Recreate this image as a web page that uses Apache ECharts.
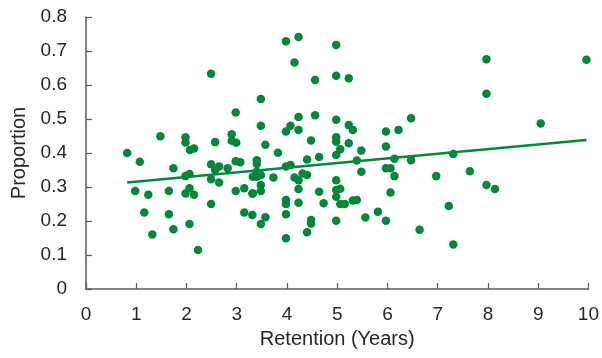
<!DOCTYPE html>
<html>
<head>
<meta charset="utf-8">
<script src="https://cdn.jsdelivr.net/npm/echarts@6/dist/echarts.min.js"></script>
<style>
  html, body { margin: 0; padding: 0; background: #fff; }
</style>
</head>
<body>
<div id="main" style="width: 602px; height: 358px;"></div>
<script>
// retention in years / proportion
var retention = [
  0.82, 1.07, 0.98, 1.24, 1.16, 1.32, 1.48, 1.74, 1.65, 1.65, 1.74,
  1.98, 1.98, 2.07, 2.15, 1.98, 2.06, 2.06, 1.98, 2.15, 2.06, 2.23,
  2.49, 2.49, 2.49, 2.57, 2.57, 2.65, 2.65, 2.49, 2.82, 2.9, 2.9, 2.99,
  2.98, 2.98, 3.07, 2.98, 3.15, 3.15, 3.31, 3.31,
  3.48, 3.48, 3.57, 3.40, 3.40, 3.40, 3.32, 3.40, 3.48, 3.48, 3.48, 3.32,
  3.73, 3.82, 3.57, 3.48,
  3.98, 4.23, 4.15, 4.07, 3.98, 4.23, 4.23, 4.48, 4.56, 4.56, 3.98, 4.07,
  4.15, 4.23, 4.31, 4.40, 4.40, 4.64, 4.23, 3.98, 3.98, 4.23, 3.98, 3.98,
  4.48, 4.48, 4.40, 4.64, 4.73,
  4.98, 4.98, 5.23, 4.98, 5.23, 5.31, 4.98, 4.98, 5.23, 5.06, 4.98, 5.48,
  5.39, 5.48, 4.98, 4.98, 5.06, 4.98, 5.06, 5.15, 5.31, 5.39, 4.98, 5.56,
  5.81, 5.97, 5.97, 6.22, 6.47, 5.97, 6.14, 6.47, 5.97, 6.06, 6.14, 6.06,
  6.64,
  7.97, 9.96, 7.97, 9.05, 7.31, 6.97, 7.64, 7.97, 8.14, 7.22, 7.31
];
var proportion = [
  0.40, 0.374, 0.288, 0.277, 0.225, 0.16, 0.449, 0.355, 0.288, 0.22, 0.176,
  0.446, 0.431, 0.409, 0.413, 0.332, 0.338, 0.296, 0.281, 0.277, 0.191, 0.115,
  0.633, 0.367, 0.323, 0.432, 0.35, 0.36, 0.313, 0.25, 0.355, 0.455, 0.436, 0.43,
  0.519, 0.376, 0.373, 0.288, 0.296, 0.225, 0.281, 0.218,
  0.559, 0.48, 0.424, 0.379, 0.368, 0.345, 0.33, 0.33, 0.335, 0.306, 0.288, 0.281,
  0.328, 0.401, 0.211, 0.191,
  0.729, 0.741, 0.666, 0.48, 0.463, 0.506, 0.468, 0.437, 0.511, 0.615, 0.36, 0.365,
  0.328, 0.32, 0.34, 0.335, 0.381, 0.388, 0.294, 0.262, 0.25, 0.254, 0.22, 0.149,
  0.203, 0.193, 0.167, 0.286, 0.252,
  0.718, 0.627, 0.62, 0.498, 0.482, 0.468, 0.446, 0.433, 0.429, 0.411, 0.394, 0.407,
  0.378, 0.345, 0.32, 0.291, 0.295, 0.271, 0.25, 0.25, 0.26, 0.262, 0.201, 0.21,
  0.227, 0.201, 0.463, 0.468, 0.502, 0.419, 0.383, 0.379, 0.355, 0.355, 0.332, 0.284,
  0.174,
  0.676, 0.674, 0.574, 0.487, 0.397, 0.332, 0.346, 0.306, 0.294, 0.244, 0.131
];
// trend line end points
var trendX = [0.82, 9.96];
var trendY = [0.313, 0.438];
var xTicks = [0, 1, 2, 3, 4, 5, 6, 7, 8, 9, 10];

var green = '#00873c';
var axisColor = '#595959';
var font = '"Liberation Sans", Arial, sans-serif';

var points = [];
for (var i = 0; i < retention.length; i++) {
  points.push([retention[i], proportion[i]]);
}
var trend = [];
for (var j = 0; j < trendX.length; j++) {
  trend.push([trendX[j], trendY[j]]);
}

var chart = echarts.init(document.getElementById('main'), null, { renderer: 'canvas' });
var option = {
  animation: false,
  grid: {
    left: 86,
    right: 10,
    top: 17,
    bottom: 69
  },
  xAxis: {
    type: 'value',
    min: xTicks[0],
    max: xTicks[xTicks.length - 1],
    interval: 1,
    name: 'Retention (Years)',
    nameLocation: 'middle',
    nameGap: 40,
    nameTextStyle: { fontFamily: font, fontSize: 20, color: '#262626' },
    axisLine: { show: true, lineStyle: { color: axisColor, width: 1.5 } },
    axisTick: { show: true, inside: true, length: 6, lineStyle: { color: axisColor, width: 1.2 } },
    axisLabel: { fontFamily: font, fontSize: 19, color: '#262626', margin: 16 },
    splitLine: { show: false }
  },
  yAxis: {
    type: 'value',
    min: 0,
    max: 0.8,
    interval: 0.1,
    name: 'Proportion',
    nameLocation: 'middle',
    nameGap: 56,
    nameTextStyle: { fontFamily: font, fontSize: 20, color: '#262626' },
    axisLine: { show: true, lineStyle: { color: axisColor, width: 1.5 } },
    axisTick: { show: true, inside: true, length: 6, lineStyle: { color: axisColor, width: 1.2 } },
    axisLabel: { fontFamily: font, fontSize: 19, color: '#262626', margin: 19 },
    splitLine: { show: false }
  },
  series: [
    {
      type: 'scatter',
      data: points,
      symbolSize: 8.5,
      itemStyle: { color: green, opacity: 1 }
    },
    {
      type: 'line',
      data: trend,
      showSymbol: false,
      lineStyle: { color: green, width: 2.5 },
      z: 3
    }
  ]
};
chart.setOption(option);
</script>
</body>
</html>
